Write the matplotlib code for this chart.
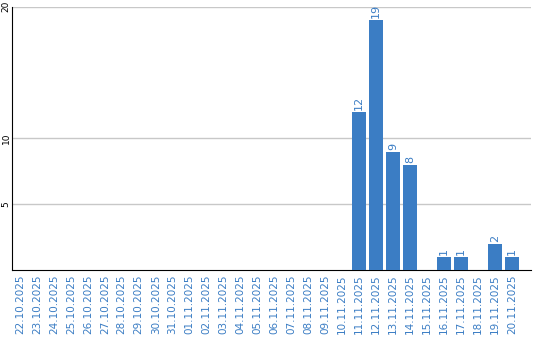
import matplotlib
matplotlib.use("Agg")
import matplotlib.pyplot as plt

# Daily counts, 22.10.2025 - 20.11.2025
dates = ["22.10.2025", "23.10.2025", "24.10.2025", "25.10.2025", "26.10.2025",
         "27.10.2025", "28.10.2025", "29.10.2025", "30.10.2025", "31.10.2025",
         "01.11.2025", "02.11.2025", "03.11.2025", "04.11.2025", "05.11.2025",
         "06.11.2025", "07.11.2025", "08.11.2025", "09.11.2025", "10.11.2025",
         "11.11.2025", "12.11.2025", "13.11.2025", "14.11.2025", "15.11.2025",
         "16.11.2025", "17.11.2025", "18.11.2025", "19.11.2025", "20.11.2025"]
counts = [0, 0, 0, 0, 0, 0, 0, 0, 0, 0,
          0, 0, 0, 0, 0, 0, 0, 0, 0, 0,
          12, 19, 9, 8, 0, 1, 1, 0, 2, 1]
y_ticks = [5, 10, 20]

blue = "#3b7dc4"

fig = plt.figure(figsize=(5.4, 3.4), dpi=100)
ax = fig.add_axes([0.0222, 0.206, 0.961, 0.774])

x = list(range(len(dates)))
ax.bar(x, counts, width=0.82, color=blue, zorder=3)

for xi, c in zip(x, counts):
    if c > 0:
        ax.text(xi, c + 0.15, str(c), rotation=90, ha="center", va="bottom",
                color=blue, fontsize=8)

ax.set_xlim(-0.47, 30.12)
ax.set_ylim(0, 20)
ax.set_yticks(y_ticks)
ax.set_yticklabels([str(t) for t in y_ticks], rotation=90, va="center", fontsize=6.5)
ax.set_xticks(x)
ax.set_xticklabels(dates, rotation=90, fontsize=7.5, color=blue)
ax.tick_params(axis="x", length=0, pad=3)
ax.tick_params(axis="y", length=0, pad=1)

ax.grid(axis="y", color="#c8c8c8", linewidth=1, zorder=0)
for s in ["top", "right"]:
    ax.spines[s].set_visible(False)
ax.spines["left"].set_color("black")
ax.spines["bottom"].set_color("black")

fig.savefig("out.png", dpi=100)
